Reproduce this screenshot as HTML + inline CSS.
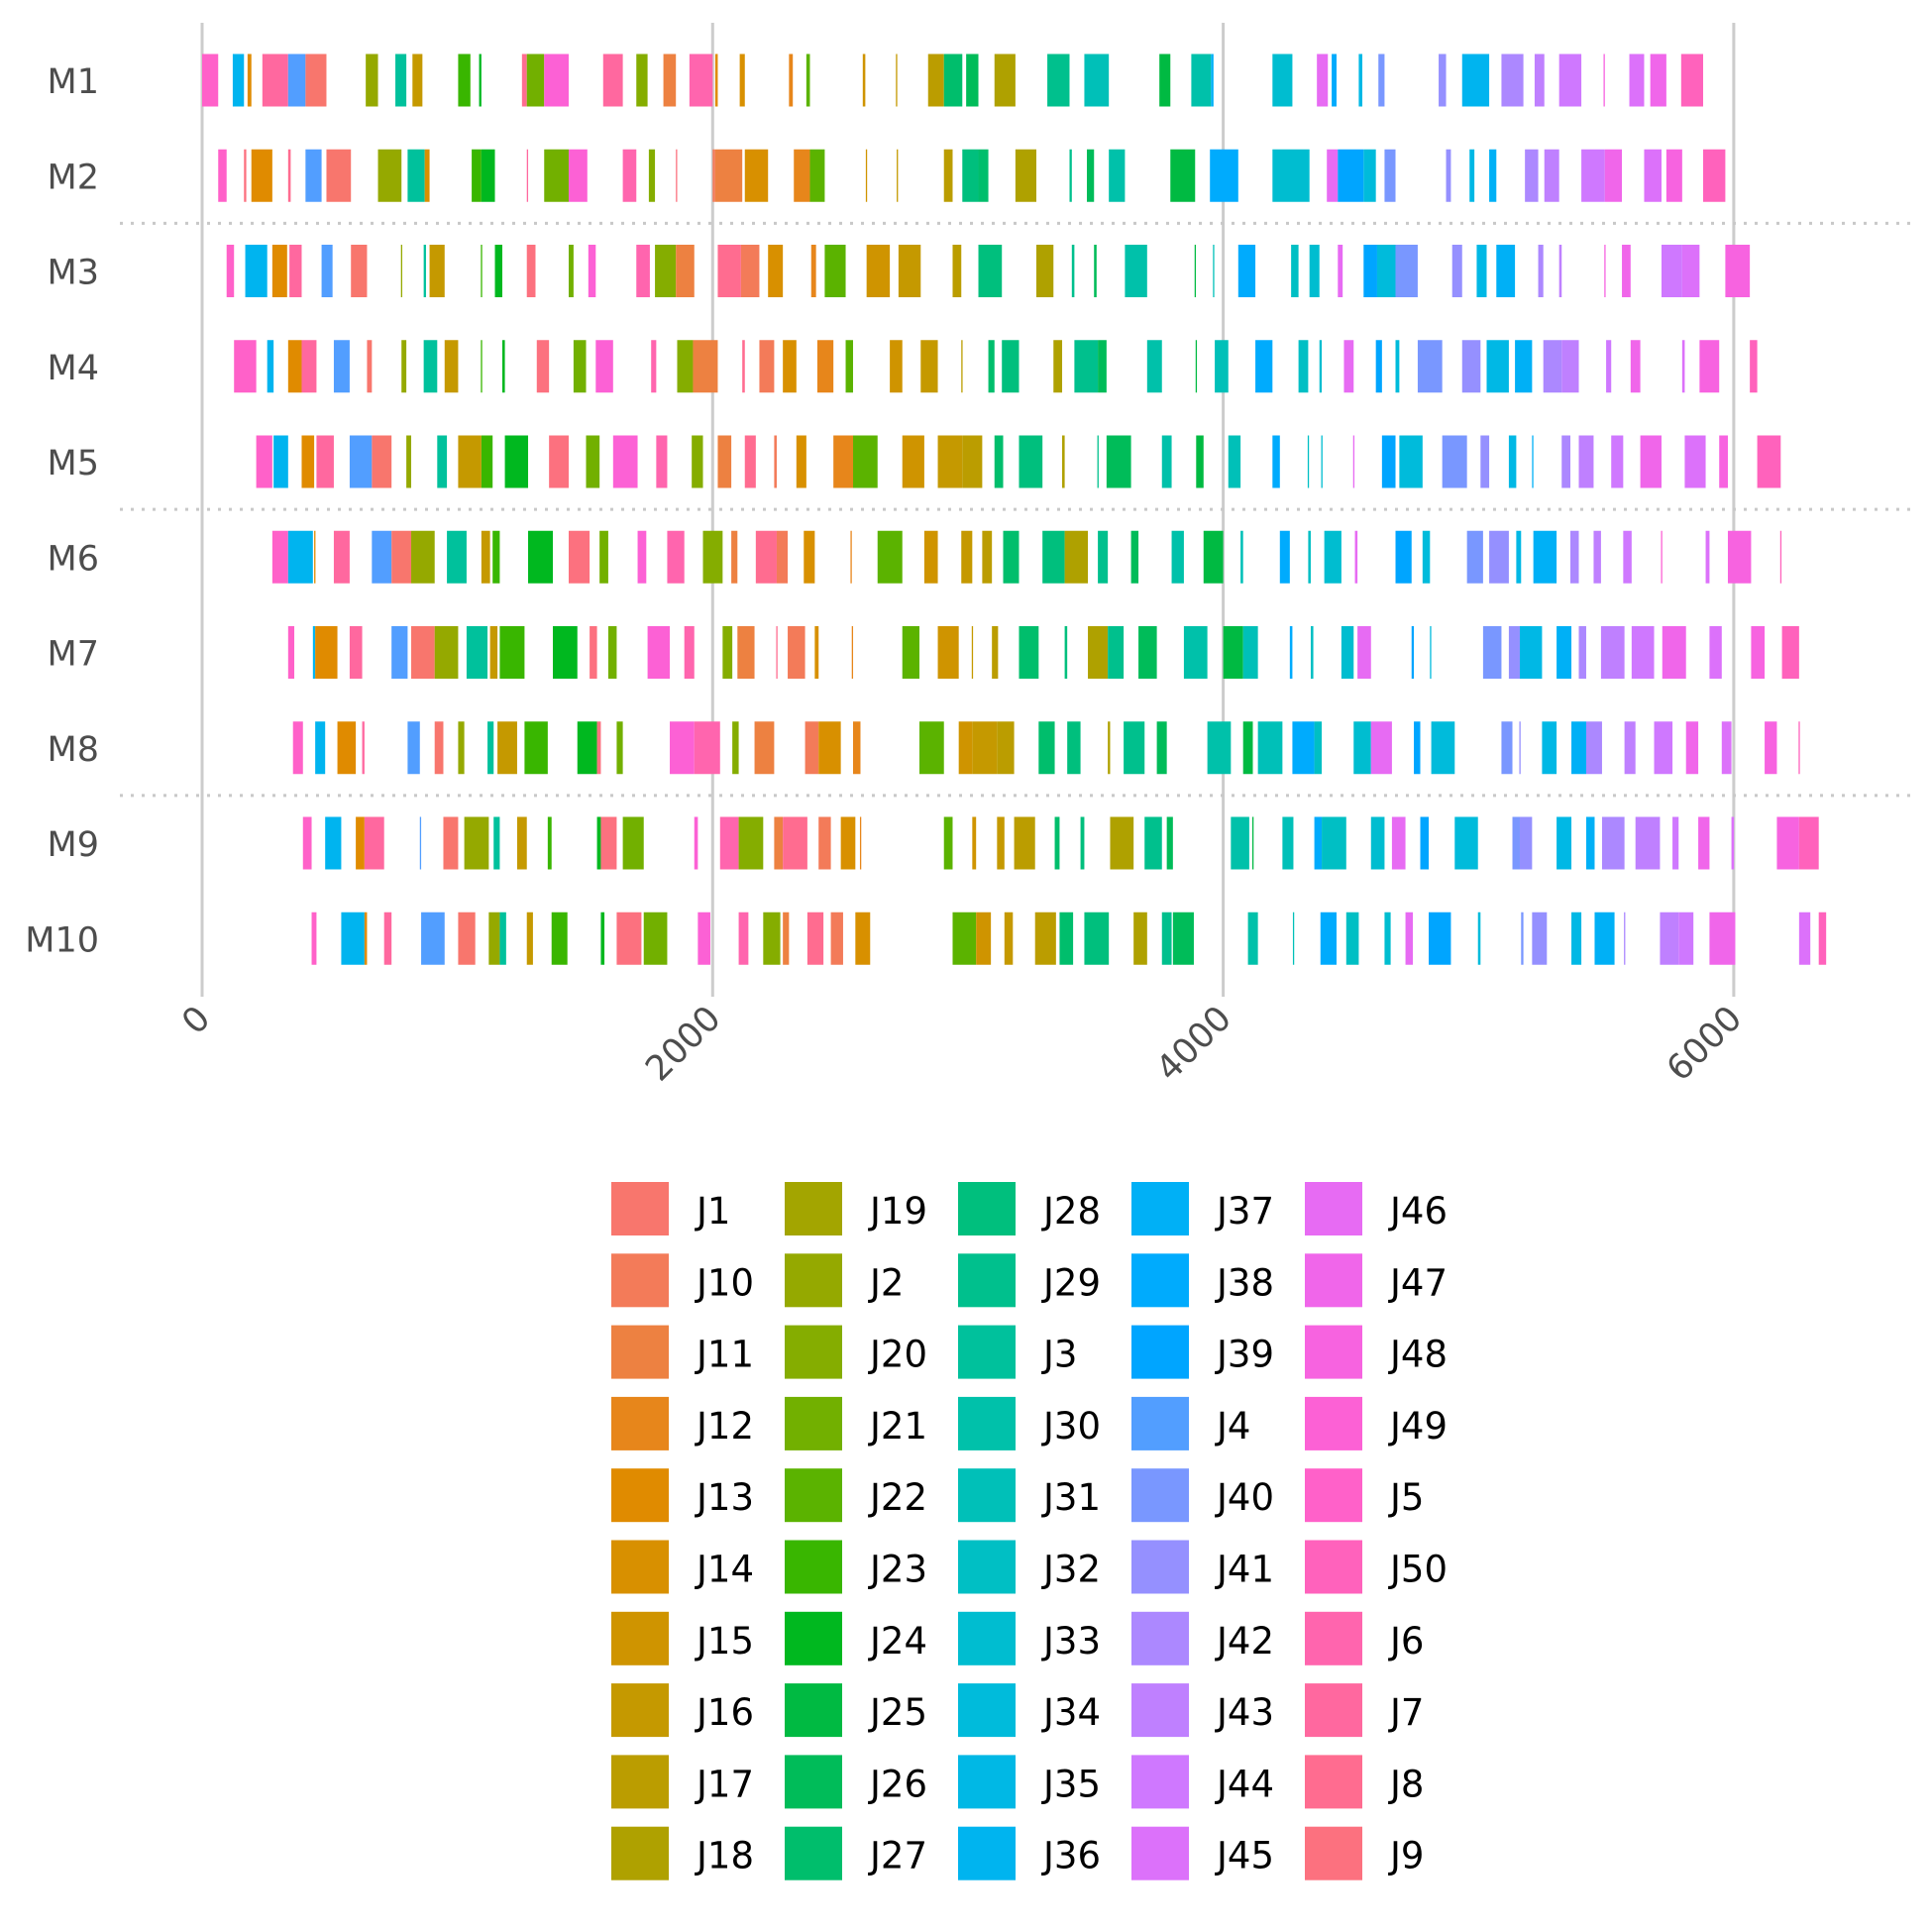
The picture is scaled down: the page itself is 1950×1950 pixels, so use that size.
<!DOCTYPE html>
<html><head><meta charset="utf-8">
<style>
html,body{margin:0;padding:0;background:#fff;}
svg{display:block;font-family:"DejaVu Sans","Liberation Sans",sans-serif;}
</style></head>
<body>
<svg id="chart" width="1950" height="1950" viewBox="0 0 1950 1950" xmlns="http://www.w3.org/2000/svg">
<g id="grid"></g>
<g id="bars"></g>
<g id="yaxis"></g>
<g id="xaxis"></g>
<g id="legend"></g>
</svg>
<script>
const machines = ["M1","M2","M3","M4","M5","M6","M7","M8","M9","M10"];
const xTicks = [0,2000,4000,6000];
const xTickLabels = ["0","2000","4000","6000"];
const groupSeparatorsAfter = [1,4,7];
const legendJobs = ["J1","J10","J11","J12","J13","J14","J15","J16","J17","J18","J19","J2","J20","J21","J22","J23","J24","J25","J26","J27","J28","J29","J3","J30","J31","J32","J33","J34","J35","J36","J37","J38","J39","J4","J40","J41","J42","J43","J44","J45","J46","J47","J48","J49","J5","J50","J6","J7","J8","J9"];

const tasksM1 = [["J5",0,63],["J36",120,164],["J13",178,193],["J7",236,337],["J4",337,405],["J1",405,487],["J2",641,689],["J3",757,800],["J16",824,863],["J23",1003,1051],["J24",1085,1094],["J8",1253,1272],["J21",1272,1340],["J49",1340,1436],["J7",1571,1648],["J20",1701,1745],["J11",1807,1856],["J6",1909,2000],["J13",2010,2020],["J14",2106,2126],["J12",2299,2314],["J22",2367,2381],["J15",2588,2598],["J16",2718,2723],["J17",2844,2906],["J27",2906,2978],["J26",2993,3041],["J18",3104,3186],["J29",3311,3398],["J31",3456,3552],["J25",3750,3793],["J30",3875,3952],["J37",3952,3962],["J33",4193,4271],["J46",4367,4410],["J38",4425,4444],["J35",4531,4545],["J40",4608,4632],["J41",4844,4873],["J36",4936,5042],["J42",5090,5176],["J43",5220,5258],["J44",5316,5403],["J48",5490,5495],["J45",5591,5649],["J47",5673,5736],["J50",5794,5880]];
const tasksM2 = [["J5",63,96],["J9",164,173],["J13",193,275],["J8",337,347],["J4",405,468],["J1",487,583],["J2",689,781],["J3",805,872],["J14",872,891],["J23",1056,1094],["J24",1094,1147],["J7",1272,1277],["J21",1340,1436],["J49",1436,1509],["J6",1648,1701],["J20",1750,1774],["J9",1856,1861],["J10",2000,2010],["J11",2010,2116],["J14",2126,2217],["J12",2318,2381],["J22",2381,2439],["J15",2600,2605],["J16",2721,2725],["J17",2906,2940],["J28",2978,3041],["J27",3041,3080],["J18",3186,3268],["J29",3398,3407],["J26",3466,3494],["J30",3552,3615],["J25",3793,3890],["J38",3948,4059],["J33",4193,4338],["J46",4406,4449],["J39",4449,4550],["J34",4550,4598],["J40",4632,4675],["J41",4873,4892],["J35",4965,4984],["J37",5042,5070],["J42",5182,5234],["J43",5258,5316],["J44",5403,5495],["J47",5495,5562],["J45",5649,5717],["J48",5736,5798],["J50",5880,5967]];
const tasksM3 = [["J5",96,125],["J36",169,255],["J13",275,333],["J7",342,390],["J4",468,511],["J1",583,646],["J2",779,783],["J3",868,877],["J16",891,950],["J23",1092,1096],["J24",1147,1176],["J9",1272,1306],["J21",1436,1455],["J49",1513,1542],["J6",1701,1754],["J20",1774,1856],["J11",1856,1928],["J8",2020,2111],["J10",2111,2183],["J14",2217,2275],["J12",2386,2405],["J22",2439,2521],["J15",2603,2694],["J16",2728,2815],["J17",2940,2974],["J28",3041,3133],["J18",3268,3335],["J29",3407,3417],["J26",3494,3504],["J30",3615,3702],["J25",3888,3892],["J31",3960,3964],["J38",4059,4126],["J32",4266,4295],["J33",4338,4377],["J46",4449,4468],["J39",4550,4603],["J34",4603,4675],["J40",4675,4762],["J41",4897,4936],["J35",4993,5032],["J37",5070,5143],["J42",5234,5254],["J43",5316,5326],["J48",5493,5497],["J47",5562,5596],["J44",5717,5798],["J45",5798,5866],["J48",5967,6063]];
const tasksM4 = [["J5",125,212],["J36",255,280],["J13",337,390],["J7",390,448],["J4",516,578],["J1",646,665],["J2",781,800],["J3",868,921],["J16",950,1003],["J23",1092,1096],["J24",1176,1186],["J9",1311,1359],["J21",1455,1504],["J49",1542,1610],["J6",1759,1779],["J20",1861,1923],["J11",1923,2020],["J8",2116,2126],["J10",2183,2241],["J14",2275,2328],["J12",2410,2473],["J22",2521,2550],["J15",2694,2743],["J16",2815,2882],["J17",2974,2979],["J27",3080,3104],["J28",3133,3200],["J18",3335,3369],["J29",3417,3509],["J26",3509,3543],["J30",3702,3760],["J25",3892,3896],["J31",3967,4020],["J38",4126,4193],["J32",4295,4333],["J33",4377,4386],["J46",4473,4511],["J39",4598,4622],["J34",4675,4690],["J40",4762,4858],["J41",4936,5008],["J35",5032,5119],["J37",5143,5210],["J42",5254,5326],["J43",5326,5393],["J44",5500,5520],["J47",5596,5634],["J45",5798,5808],["J48",5866,5943],["J50",6063,6092]];
const tasksM5 = [["J5",212,275],["J36",280,337],["J13",390,439],["J7",448,516],["J4",578,665],["J1",665,742],["J2",800,819],["J3",921,959],["J16",1003,1094],["J23",1094,1138],["J24",1186,1277],["J9",1359,1436],["J21",1504,1557],["J49",1610,1706],["J6",1779,1822],["J20",1918,1962],["J11",2020,2073],["J8",2126,2169],["J10",2241,2251],["J14",2328,2367],["J12",2473,2550],["J22",2550,2646],["J15",2743,2829],["J16",2882,2978],["J17",2978,3056],["J27",3104,3138],["J28",3200,3292],["J18",3369,3379],["J29",3507,3511],["J26",3543,3639],["J30",3760,3798],["J25",3894,3923],["J31",4020,4068],["J38",4193,4222],["J32",4331,4335],["J33",4384,4388],["J46",4509,4513],["J39",4622,4675],["J34",4690,4781],["J40",4858,4955],["J41",5008,5042],["J35",5119,5148],["J37",5210,5215],["J42",5326,5360],["J43",5393,5451],["J44",5520,5567],["J47",5634,5717],["J45",5808,5890],["J48",5943,5977],["J50",6092,6184]];
const tasksM6 = [["J5",275,337],["J36",337,434],["J13",439,443],["J7",516,578],["J4",665,742],["J1",742,819],["J2",819,911],["J3",959,1036],["J16",1094,1128],["J23",1138,1166],["J24",1277,1374],["J9",1436,1518],["J21",1557,1591],["J49",1706,1740],["J6",1822,1889],["J20",1962,2039],["J11",2073,2097],["J8",2169,2251],["J10",2251,2294],["J14",2357,2400],["J12",2540,2545],["J22",2646,2743],["J15",2829,2882],["J16",2974,3017],["J17",3056,3094],["J27",3138,3200],["J28",3292,3379],["J18",3379,3470],["J29",3509,3548],["J26",3639,3668],["J30",3798,3846],["J25",3923,4000],["J31",4068,4078],["J38",4222,4261],["J32",4333,4343],["J33",4396,4463],["J46",4516,4526],["J39",4675,4738],["J34",4781,4810],["J40",4955,5018],["J41",5042,5119],["J35",5148,5167],["J37",5215,5306],["J42",5360,5393],["J43",5451,5480],["J44",5567,5600],["J49",5715,5719],["J45",5890,5905],["J48",5977,6068],["J50",6182,6186]];
const tasksM7 = [["J5",337,361],["J36",434,443],["J13",443,530],["J7",578,627],["J4",742,805],["J1",819,911],["J2",911,1003],["J3",1036,1118],["J16",1128,1157],["J23",1166,1263],["J24",1374,1470],["J9",1518,1547],["J21",1591,1624],["J49",1745,1832],["J6",1889,1928],["J20",2039,2077],["J11",2097,2164],["J8",2249,2253],["J10",2294,2362],["J14",2400,2415],["J12",2545,2550],["J22",2743,2810],["J15",2882,2964],["J16",3015,3019],["J17",3094,3118],["J27",3200,3277],["J28",3379,3389],["J18",3470,3548],["J29",3548,3610],["J26",3668,3740],["J30",3846,3938],["J25",4000,4078],["J31",4078,4136],["J38",4261,4271],["J32",4343,4353],["J33",4463,4511],["J46",4526,4579],["J39",4738,4747],["J34",4810,4815],["J40",5018,5090],["J41",5119,5162],["J35",5162,5249],["J37",5306,5364],["J42",5393,5422],["J43",5480,5572],["J44",5600,5688],["J47",5720,5813],["J45",5905,5953],["J48",6068,6121],["J50",6189,6256]];
const tasksM8 = [["J5",356,395],["J36",443,482],["J13",530,602],["J7",627,636],["J4",805,853],["J1",911,945],["J2",1003,1027],["J3",1118,1142],["J16",1157,1234],["J23",1263,1354],["J24",1470,1547],["J9",1547,1562],["J21",1624,1648],["J49",1832,1928],["J6",1928,2029],["J20",2077,2102],["J11",2164,2241],["J10",2362,2415],["J14",2415,2502],["J12",2550,2579],["J22",2810,2906],["J15",2964,3017],["J16",3017,3114],["J17",3114,3181],["J27",3277,3340],["J28",3389,3441],["J18",3548,3557],["J29",3610,3692],["J26",3740,3779],["J30",3938,4030],["J25",4078,4116],["J31",4136,4232],["J38",4271,4357],["J32",4357,4386],["J33",4511,4579],["J46",4579,4661],["J39",4747,4772],["J34",4815,4907],["J40",5090,5133],["J41",5160,5164],["J35",5249,5306],["J37",5364,5422],["J42",5422,5484],["J43",5572,5615],["J44",5688,5760],["J47",5813,5861],["J45",5953,5991],["J48",6121,6169],["J50",6254,6258]];
const tasksM9 = [["J5",395,429],["J36",482,545],["J13",602,636],["J7",636,713],["J4",853,858],["J1",945,1003],["J2",1027,1123],["J3",1142,1166],["J16",1234,1272],["J23",1354,1369],["J24",1547,1562],["J9",1562,1624],["J21",1648,1730],["J49",1928,1942],["J6",2029,2102],["J20",2102,2198],["J11",2241,2275],["J8",2275,2371],["J10",2415,2463],["J14",2502,2559],["J12",2577,2581],["J22",2906,2940],["J15",3017,3032],["J16",3114,3143],["J17",3181,3263],["J27",3340,3359],["J28",3441,3456],["J18",3557,3649],["J29",3692,3760],["J26",3779,3803],["J30",4030,4102],["J25",4114,4118],["J31",4232,4275],["J38",4357,4386],["J32",4386,4482],["J33",4579,4632],["J46",4661,4714],["J39",4772,4805],["J34",4907,4998],["J40",5133,5162],["J41",5162,5210],["J35",5306,5364],["J37",5422,5455],["J42",5484,5572],["J43",5615,5711],["J44",5760,5784],["J47",5861,5905],["J45",5991,6001],["J48",6169,6256],["J50",6256,6333]];
const tasksM10 = [["J5",429,448],["J36",545,636],["J13",636,646],["J7",713,742],["J4",858,950],["J1",1003,1070],["J2",1123,1166],["J3",1166,1191],["J16",1272,1296],["J23",1369,1431],["J24",1562,1576],["J9",1624,1721],["J21",1730,1822],["J49",1942,1991],["J6",2102,2140],["J20",2198,2265],["J11",2275,2299],["J8",2371,2434],["J10",2463,2511],["J14",2559,2617],["J22",2940,3032],["J15",3032,3090],["J16",3143,3176],["J17",3263,3345],["J27",3359,3412],["J28",3456,3552],["J18",3649,3702],["J29",3760,3798],["J26",3803,3885],["J30",4097,4136],["J31",4273,4277],["J38",4381,4444],["J32",4482,4531],["J33",4632,4656],["J46",4714,4743],["J39",4805,4892],["J34",4998,5008],["J40",5167,5176],["J41",5210,5268],["J35",5364,5403],["J37",5455,5533],["J42",5570,5574],["J43",5711,5784],["J44",5784,5842],["J47",5905,6006],["J45",6256,6300],["J50",6333,6362]];
const machineTasks = [tasksM1,tasksM2,tasksM3,tasksM4,tasksM5,tasksM6,tasksM7,tasksM8,tasksM9,tasksM10];

const NS = "http://www.w3.org/2000/svg";
const X0 = 204, XS = 515.3/2000;
function xScale(v){ return X0 + v*XS; }
const ROW0 = 81, ROWSTEP = 96.25, BARH = 53;
function yScale(i){ return ROW0 + i*ROWSTEP; }

function hcl(h, c, l){
  const Xn=95.047,Yn=100,Zn=108.883;
  const hr=h*Math.PI/180, u=c*Math.cos(hr), v=c*Math.sin(hr);
  const Y = Math.pow((l+16)/116,3)*Yn;
  const den = Xn+15*Yn+3*Zn, un=4*Xn/den, vn=9*Yn/den;
  const up=u/(13*l)+un, vp=v/(13*l)+vn;
  const X = 9*Y*up/(4*vp), Z = (12-3*up-20*vp)*Y/(4*vp);
  const x=X/100,y=Y/100,z=Z/100;
  let r= 3.2404542*x-1.5371385*y-0.4985314*z;
  let g=-0.9692660*x+1.8760108*y+0.0415560*z;
  let b= 0.0556434*x-0.2040259*y+1.0572252*z;
  const gam=t=>{t=t<=0.0031308?12.92*t:1.055*Math.pow(t,1/2.4)-0.055;return Math.round(Math.max(0,Math.min(1,t))*255);};
  return "rgb("+gam(r)+","+gam(g)+","+gam(b)+")";
}
const colorOf = {};
legendJobs.forEach((j,i)=>{ colorOf[j] = hcl(15+360*i/legendJobs.length, 100, 65); });

function mk(tag, attrs, parent){
  const e=document.createElementNS(NS,tag);
  for(const k in attrs) e.setAttribute(k, attrs[k]);
  parent.appendChild(e); return e;
}

const grid=document.getElementById('grid');
xTicks.forEach((t,i)=>{
  const l=mk('line',{x1:xScale(t),x2:xScale(t),y1:23,y2:1006,stroke:'#cccccc','stroke-width':3},grid);
  
  
});
groupSeparatorsAfter.forEach(k=>{
  const y=(yScale(k)+yScale(k+1))/2;
  const l=mk('line',{x1:121,x2:1931,y1:y,y2:y,stroke:'#c8c8c8','stroke-width':3,'stroke-dasharray':'3,8'},grid);
  
  
});

const bars=document.getElementById('bars');
machineTasks.forEach((tasks,mi)=>{
  const yc=yScale(mi);
  tasks.forEach(t=>{
    const x1=xScale(t[1]), x2=xScale(t[2]);
    const r=mk('rect',{x:x1,y:yc-BARH/2,width:Math.max(x2-x1,1.3),height:BARH,fill:colorOf[t[0]]},bars);
    
    
  });
});

const ya=document.getElementById('yaxis');
machines.forEach((m,i)=>{
  const t=mk('text',{x:100,y:yScale(i)+13,'text-anchor':'end','font-size':35,fill:'#4d4d4d'},ya);
  t.textContent=m;
  
  
});

const xa=document.getElementById('xaxis');
xTicks.forEach((v,i)=>{
  const x=xScale(v)+10, y=1030;
  const t=mk('text',{x:x,y:y,'text-anchor':'end','font-size':35,fill:'#4d4d4d',transform:'rotate(-45 '+x+' '+y+')'},xa);
  t.textContent=xTickLabels[i];
  
  
});

const lg=document.getElementById('legend');
legendJobs.forEach((j,i)=>{
  const col=Math.floor(i/10), row=i%10;
  const kx=617+col*175, ky=1193+row*72.3;
  const g=mk('g',{},lg);
  
  
  mk('rect',{x:kx,y:ky,width:58,height:54,fill:colorOf[j]},g);
  const t=mk('text',{x:kx+86,y:ky+42,'font-size':37,fill:'#000'},g);
  t.textContent=j;
});
</script>
</body></html>
